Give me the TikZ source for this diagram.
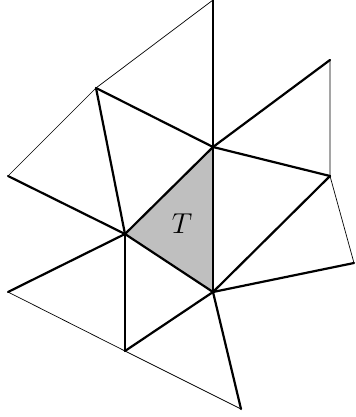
\documentclass[tikz,border=0pt]{standalone}
\usepackage{amsmath, amssymb}
\usetikzlibrary{positioning, calc}

\begin{document}
\begin{tikzpicture}[
      x=0.5pt, y=-0.5pt,
      heavy/.style={line width=1.1pt, line cap=round, line join=round},
      light/.style={line width=0.35pt, line cap=round},
      cell/.style={fill=gray!50, draw=none}
  ]
    \useasboundingbox (0,0) rectangle (355,417);

    % vertices
    \coordinate (top) at (213,0);
    \coordinate (a) at (96,88);
    \coordinate (b) at (213,147);
    \coordinate (rt) at (330,60);
    \coordinate (r) at (330,176);
    \coordinate (c) at (125,234);
    \coordinate (l) at (8,176);
    \coordinate (d) at (213,292);
    \coordinate (fr) at (354,263);
    \coordinate (ll) at (8,292);
    \coordinate (bl) at (125,351);
    \coordinate (bot) at (241,409);

    % shaded triangle
    \path[cell] (b) -- (c) -- (d) -- cycle;
    \node (lab) at (182,224) {\Large $T$};

    % outer thin edges
    \draw[light] (top) -- (a) -- (l);
    \draw[light] (rt) -- (r) -- (fr);
    \draw[light] (ll) -- (bl) -- (bot);

    % thick edges
    \draw[heavy] (top) -- (b);
    \draw[heavy] (a) -- (b);
    \draw[heavy] (a) -- (c);
    \draw[heavy] (b) -- (rt);
    \draw[heavy] (b) -- (r);
    \draw[heavy] (b) -- (c);
    \draw[heavy] (b) -- (d);
    \draw[heavy] (c) -- (d);
    \draw[heavy] (l) -- (c);
    \draw[heavy] (c) -- (ll);
    \draw[heavy] (c) -- (bl);
    \draw[heavy] (bl) -- (d);
    \draw[heavy] (d) -- (r);
    \draw[heavy] (d) -- (fr);
    \draw[heavy] (d) -- (bot);
  \end{tikzpicture}
\end{document}
